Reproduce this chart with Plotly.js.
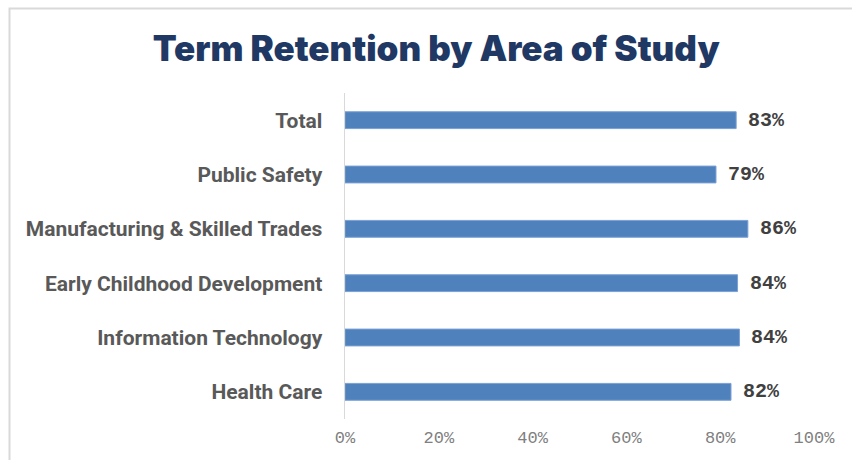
<!DOCTYPE html>
<html>
<head>
<meta charset="utf-8">
<script src="https://cdn.plot.ly/plotly-3.0.1.min.js"></script>
<style>
  html, body { margin: 0; padding: 0; background: #ffffff; }
  #chart { width: 852px; height: 460px; }
</style>
</head>
<body>
<div id="chart"></div>
<script>
// Categories listed bottom to top (Plotly draws first category at the bottom)
const categories = [
  "Health Care",
  "Information Technology",
  "Early Childhood Development",
  "Manufacturing & Skilled Trades",
  "Public Safety",
  "Total"
];
const retention = [0.823, 0.841, 0.837, 0.859, 0.791, 0.834];
const xTickValues = [0, 0.2, 0.4, 0.6, 0.8, 1.0];
const xTickLabels = ["0%", "20%", "40%", "60%", "80%", "100%"];
const chartTitle = "Term Retention by Area of Study";

const trace = {
  type: "bar",
  orientation: "h",
  x: retention,
  y: categories,
  marker: { color: "#4f81bd", line: { color: "#7aa0d4", width: 1 } },
  width: 0.31,
  hoverinfo: "none"
};

const labelAnnotations = categories.map((c, i) => ({
  x: retention[i],
  y: c,
  xref: "x",
  yref: "y",
  text: Math.round(retention[i] * 100) + "%",
  showarrow: false,
  xanchor: "left",
  yanchor: "middle",
  xshift: 10,
  font: { family: "Courier New, Liberation Mono, monospace", size: 20, color: "#404040", weight: "bold" }
}));

const layout = {
  width: 852,
  height: 460,
  margin: { l: 345, r: 38, t: 93, b: 41, pad: 0 },
  paper_bgcolor: "#ffffff",
  plot_bgcolor: "#ffffff",
  showlegend: false,
  title: {
    text: chartTitle,
    x: 0.512,
    xref: "container",
    xanchor: "center",
    y: 0.895,
    yref: "container",
    yanchor: "middle",
    font: { family: "Inter, DejaVu Sans, Arial, sans-serif", size: 35, color: "#1f3864", weight: 900 }
  },
  xaxis: {
    range: [0, 1.0],
    tickvals: xTickValues,
    ticktext: xTickLabels,
    showgrid: false,
    zeroline: false,
    showline: false,
    ticks: "",
    fixedrange: true,
    ticklabelstandoff: 6,
    tickfont: { family: "Courier New, Liberation Mono, monospace", size: 17, color: "#808080" }
  },
  yaxis: {
    type: "category",
    categoryorder: "array",
    categoryarray: categories,
    range: [-0.5, 5.5],
    showgrid: false,
    zeroline: false,
    showline: true,
    linecolor: "#d9d9d9",
    linewidth: 1.5,
    ticks: "",
    ticklabelstandoff: 17,
    fixedrange: true,
    tickfont: { family: "Roboto, sans-serif", size: 21, color: "#595959", weight: "bold" }
  },
  annotations: labelAnnotations,
  shapes: [{
    type: "rect",
    xref: "paper",
    yref: "paper",
    x0: (9.5 - 345) / 469,
    x1: 2,
    y0: -0.5,
    y1: (419 - 8.5) / 326,
    line: { color: "#d9d9d9", width: 2 },
    fillcolor: "rgba(0,0,0,0)",
    layer: "below"
  }]
};

Plotly.newPlot("chart", [trace], layout, { staticPlot: true, displayModeBar: false });
</script>
</body>
</html>
